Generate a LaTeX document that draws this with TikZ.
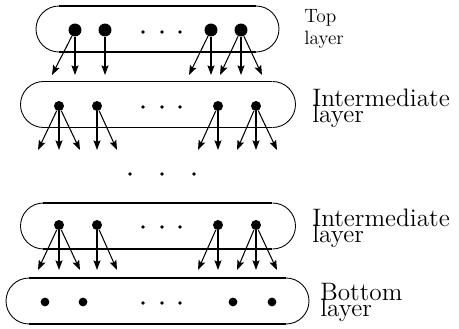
\documentclass[tikz,border=0pt]{standalone}
\usepackage{tikz}
\usetikzlibrary{arrows.meta}

\tikzset{
  bigdot/.style={circle,fill,inner sep=0pt,minimum size=7.4pt},
  middot/.style={circle,fill,inner sep=0pt,minimum size=5.7pt},
  lowdot/.style={circle,fill,inner sep=0pt,minimum size=5pt},
  link/.style={line width=0.6pt,-{Stealth[length=5.5pt,width=4pt,inset=1pt]}},
  rim/.style={line width=1.1pt},
  lbl/.style={anchor=base west,align=left,inner sep=0pt,font={\fontsize{11}{13}\selectfont}},
  biglbl/.style={lbl,font={\Large\baselineskip=9.5pt\lineskiplimit=-20pt\relax}}
}

\begin{document}
\begin{tikzpicture}[x=0.57pt,y=-0.57pt]
  \useasboundingbox (0,0) rectangle (459,329);
  % layer outlines
  \foreach \yc/\xl/\xr in {29/59/256,104.5/43.5/272.5,226/43.5/272.5,301/29/286}{
    \draw[rim] (\xl,\yc-23) -- (\xr,\yc-23) (\xl,\yc+23) -- (\xr,\yc+23);
    \draw[line width=0.5pt] (\xl,\yc-23) arc[start angle=270,end angle=90,radius=23];
    \draw[line width=0.5pt] (\xr,\yc-23) arc[start angle=270,end angle=450,radius=23];
  }
  % units
  \foreach \x [count=\i] in {75,105,211,241} \node[bigdot] (t\i) at (\x,30) {};
  \foreach \x [count=\i] in {59,97,218,256} \node[middot] (m\i) at (\x,106) {};
  \foreach \x [count=\i] in {59,97,218,256} \node[middot] (n\i) at (\x,225) {};
  \foreach \x [count=\i] in {45,83,233,272} \node[lowdot] (b\i) at (\x,302) {};
  % dots
  \foreach \x in {143,162,180}{
    \fill (\x,32) circle[radius=1.9];
    \fill (\x,107) circle[radius=1.9];
    \fill (\x,227) circle[radius=1.9];
    \fill (\x,303) circle[radius=1.9];
  }
  \foreach \x in {130,162,194} \fill (\x,174) circle[radius=1.9];
  % arrow ends
  \foreach \x [count=\i] in {52,75,105,189,211,220,241,262} \coordinate (ta\i) at (\x,75);
  \foreach \x [count=\i] in {38,59,80,97,117,198,218,237,256,277}{
    \coordinate (ma\i) at (\x,150);
    \coordinate (na\i) at (\x,270);
  }
  \foreach \s/\e in {t1/ta1,t1/ta2,t2/ta3,t3/ta4,t3/ta5,t4/ta6,t4/ta7,t4/ta8}
    \draw[link] (\s) -- (\e);
  \foreach \s/\e in {1/1,1/2,1/3,2/4,2/5,3/6,3/7,4/8,4/9,4/10}{
    \draw[link] (m\s) -- (ma\e);
    \draw[link] (n\s) -- (na\e);
  }
  % labels (anchored at the last line)
  \node[lbl] (toplbl) at (304,45) {Top\\layer};
  \node[biglbl] (mid1lbl) at (312,122.7) {Intermediate\\layer};
  \node[biglbl] (mid2lbl) at (312,242.7) {Intermediate\\layer};
  \node[biglbl] (botlbl) at (320,316.7) {Bottom\\layer};
\end{tikzpicture}
\end{document}
